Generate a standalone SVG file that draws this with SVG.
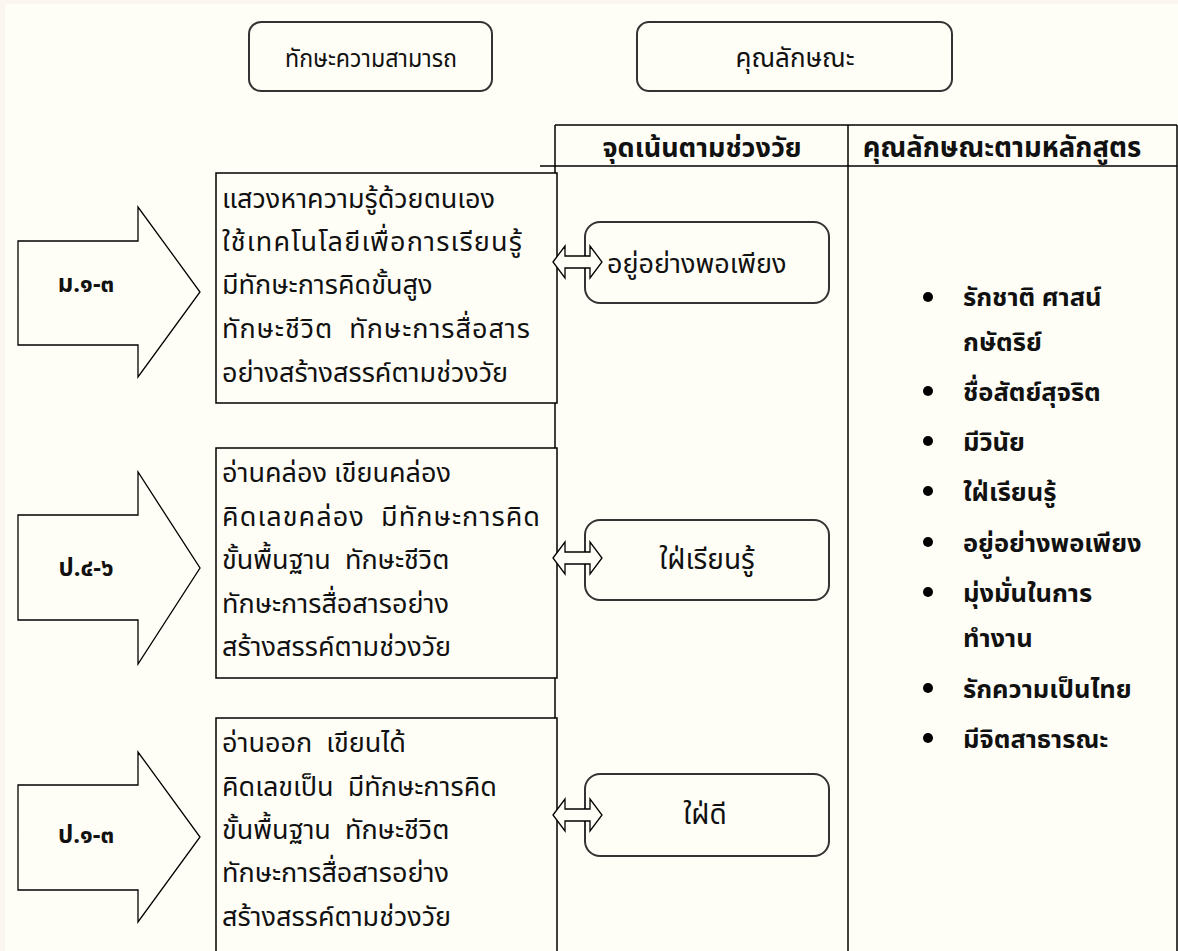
<svg xmlns="http://www.w3.org/2000/svg" width="1178" height="951" viewBox="0 0 1178 951">
<defs>
<style>
.t{font-family:"Noto Sans","Noto Sans Thai","DejaVu Sans",sans-serif;fill:#111;}
.body{font-size:27px;}
.b{font-weight:bold;}
.li{font-weight:bold;font-size:25.5px;}
.rb{fill:#fffef6;stroke:#333;stroke-width:2;}
.ln{stroke:#000;stroke-width:1.5;fill:none;}
.bx{fill:#fffef6;stroke:#000;stroke-width:1.5;}
.arr{fill:#fffef6;stroke:#000;stroke-width:1.3;stroke-linejoin:miter;}
</style>
</defs>
<rect x="0" y="0" width="1178" height="951" fill="#fcf6f1"/>
<rect x="5" y="4" width="1173" height="947" fill="#fffef6"/>

<g id="box-skills">
<rect class="rb" x="249" y="22" width="243" height="69" rx="12"/>
<text class="t" x="371" y="67" font-size="25.5" text-anchor="middle" textLength="172" lengthAdjust="spacingAndGlyphs">ทักษะความสามารถ</text>
</g>
<g id="box-traits">
<rect class="rb" x="637" y="22" width="315" height="69" rx="12"/>
<text class="t" x="795" y="67" font-size="26" text-anchor="middle">คุณลักษณะ</text>
</g>

<g id="table">
<line class="ln" x1="555" y1="125" x2="1177" y2="125"/>
<line class="ln" x1="540" y1="166" x2="1177" y2="166"/>
<line class="ln" x1="555" y1="125" x2="555" y2="951"/>
<line class="ln" x1="848" y1="125" x2="848" y2="951"/>
<line class="ln" x1="1177" y1="125" x2="1177" y2="951"/>
<text class="t b" x="702" y="157" font-size="27" text-anchor="middle">จุดเน้นตามช่วงวัย</text>
<text class="t b" x="1002" y="157" font-size="27.5" text-anchor="middle">คุณลักษณะตามหลักสูตร</text>
</g>

<g id="arrow-m1-3">
<polygon class="arr" points="18,241 138,241 138,207 200,292 138,377 138,345 18,345"/>
<text class="t b" x="86" y="292" font-size="24" text-anchor="middle">ม.๑-๓</text>
</g>
<g id="arrow-p4-6">
<polygon class="arr" points="18,515 138,515 138,472 200,568 138,664 138,620 18,620"/>
<text class="t b" x="86" y="576" font-size="24" text-anchor="middle">ป.๔-๖</text>
</g>
<g id="arrow-p1-3">
<polygon class="arr" points="18,785 138,785 138,752 200,837 138,922 138,890 18,890"/>
<text class="t b" x="86" y="843" font-size="24" text-anchor="middle">ป.๑-๓</text>
</g>

<g id="text-m1-3">
<rect class="bx" x="216" y="173" width="341" height="230"/>
<text class="t body" x="222" y="208">แสวงหาความรู้ด้วยตนเอง</text>
<text class="t body" x="222" y="251" textLength="300" lengthAdjust="spacing">ใช้เทคโนโลยีเพื่อการเรียนรู้</text>
<text class="t body" x="222" y="294">มีทักษะการคิดขั้นสูง</text>
<text class="t body" x="222" y="338" xml:space="preserve" textLength="308" lengthAdjust="spacing">ทักษะชีวิต  ทักษะการสื่อสาร</text>
<text class="t body" x="222" y="382">อย่างสร้างสรรค์ตามช่วงวัย</text>
</g>
<g id="text-p4-6">
<rect class="bx" x="216" y="448" width="341" height="230"/>
<text class="t body" x="222" y="482">อ่านคล่อง เขียนคล่อง</text>
<text class="t body" x="222" y="526" xml:space="preserve" textLength="318" lengthAdjust="spacing">คิดเลขคล่อง  มีทักษะการคิด</text>
<text class="t body" x="222" y="569" xml:space="preserve">ขั้นพื้นฐาน  ทักษะชีวิต</text>
<text class="t body" x="222" y="613">ทักษะการสื่อสารอย่าง</text>
<text class="t body" x="222" y="656">สร้างสรรค์ตามช่วงวัย</text>
</g>
<g id="text-p1-3">
<rect class="bx" x="216" y="718" width="341" height="240"/>
<text class="t body" x="222" y="752" xml:space="preserve">อ่านออก  เขียนได้</text>
<text class="t body" x="222" y="796" xml:space="preserve">คิดเลขเป็น  มีทักษะการคิด</text>
<text class="t body" x="222" y="839" xml:space="preserve">ขั้นพื้นฐาน  ทักษะชีวิต</text>
<text class="t body" x="222" y="882">ทักษะการสื่อสารอย่าง</text>
<text class="t body" x="222" y="926">สร้างสรรค์ตามช่วงวัย</text>
</g>

<g id="focus-sufficiency">
<rect class="rb" x="585" y="222" width="244" height="81" rx="15"/>
<text class="t" x="607" y="273" font-size="27">อยู่อย่างพอเพียง</text>
</g>
<g id="focus-learning">
<rect class="rb" x="585" y="520" width="244" height="80" rx="15"/>
<text class="t" x="707" y="569" font-size="28" text-anchor="middle">ใฝ่เรียนรู้</text>
</g>
<g id="focus-good">
<rect class="rb" x="585" y="774" width="244" height="82" rx="15"/>
<text class="t" x="705" y="824" font-size="28" text-anchor="middle">ใฝ่ดี</text>
</g>

<g id="connectors">
<polygon class="arr" points="553,262 565,246 565,256 590,256 590,246 602,262 590,278 590,268 565,268 565,278"/>
<polygon class="arr" points="553,558 565,542 565,552 590,552 590,542 602,558 590,574 590,564 565,564 565,574"/>
<polygon class="arr" points="553,815 565,799 565,809 590,809 590,799 602,815 590,831 590,821 565,821 565,831"/>
</g>

<g id="traits-list">
<g fill="#000">
<circle cx="928" cy="297" r="5"/>
<circle cx="928" cy="391" r="5"/>
<circle cx="928" cy="441" r="5"/>
<circle cx="928" cy="491" r="5"/>
<circle cx="928" cy="542" r="5"/>
<circle cx="928" cy="592" r="5"/>
<circle cx="928" cy="688" r="5"/>
<circle cx="928" cy="738" r="5"/>
</g>
<text class="t li" x="963" y="306">รักชาติ ศาสน์</text>
<text class="t li" x="963" y="351">กษัตริย์</text>
<text class="t li" x="963" y="401">ชื่อสัตย์สุจริต</text>
<text class="t li" x="963" y="451">มีวินัย</text>
<text class="t li" x="963" y="501">ใฝ่เรียนรู้</text>
<text class="t li" x="963" y="552">อยู่อย่างพอเพียง</text>
<text class="t li" x="963" y="602">มุ่งมั่นในการ</text>
<text class="t li" x="963" y="647">ทำงาน</text>
<text class="t li" x="963" y="698">รักความเป็นไทย</text>
<text class="t li" x="963" y="748">มีจิตสาธารณะ</text>
</g>
</svg>
